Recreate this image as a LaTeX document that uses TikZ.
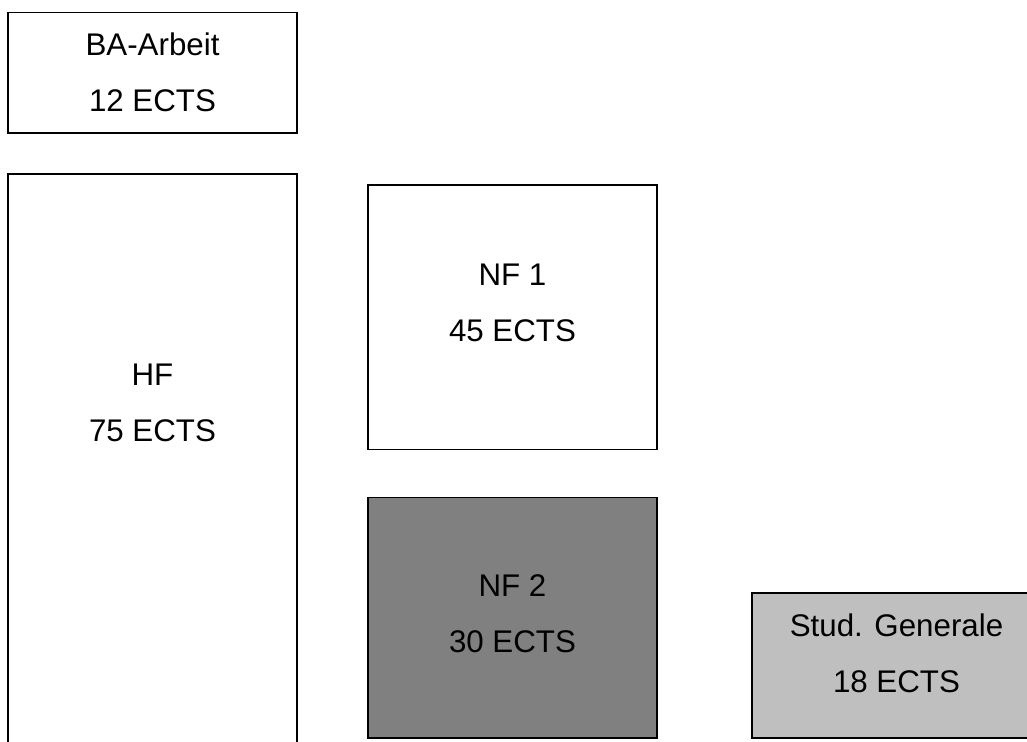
\documentclass[tikz,border=0pt]{standalone}
\usepackage{fontspec}
\setmainfont{Liberation Sans}
\begin{document}
\begin{tikzpicture}[x=1pt,y=1pt,
  box/.style={draw=black, line width=1.2pt, anchor=north west, inner sep=0pt, outer sep=0pt},
  lbl/.style={anchor=base, inner sep=0pt, font=\fontsize{31.3}{36}\selectfont}]
\useasboundingbox (0,0) rectangle (1027,-741);
\clip (0,0) rectangle (1027,-741);
\node[box, minimum width=289pt, minimum height=120.5pt] (ba) at (8,-12.5) {};
\node[box, minimum width=289pt, minimum height=590pt] (hf) at (8,-174) {};
\node[box, minimum width=289pt, minimum height=264.5pt] (nf1) at (368,-185) {};
\node[box, fill=black!50, minimum width=289pt, minimum height=240.5pt] (nf2) at (368,-497.5) {};
\node[box, fill=black!25, minimum width=288pt, minimum height=145pt] (sg) at (752,-593) {};
\node[lbl] (ba1) at (152.5,-56) {BA-Arbeit};
\node[lbl] (ba2) at (152.5,-112) {12 ECTS};
\node[lbl] (hf1) at (152.5,-385.7) {HF};
\node[lbl] (hf2) at (152.5,-441.7) {75 ECTS};
\node[lbl] (nf11) at (512.5,-285) {NF 1};
\node[lbl] (nf12) at (512.5,-341) {45 ECTS};
\node[lbl] (nf21) at (512.5,-596.7) {NF 2};
\node[lbl] (nf22) at (512.5,-652.7) {30 ECTS};
\node[lbl] (sg1) at (896.5,-636) {Stud. Generale};
\node[lbl] (sg2) at (896.5,-692.7) {18 ECTS};
\end{tikzpicture}
\end{document}
